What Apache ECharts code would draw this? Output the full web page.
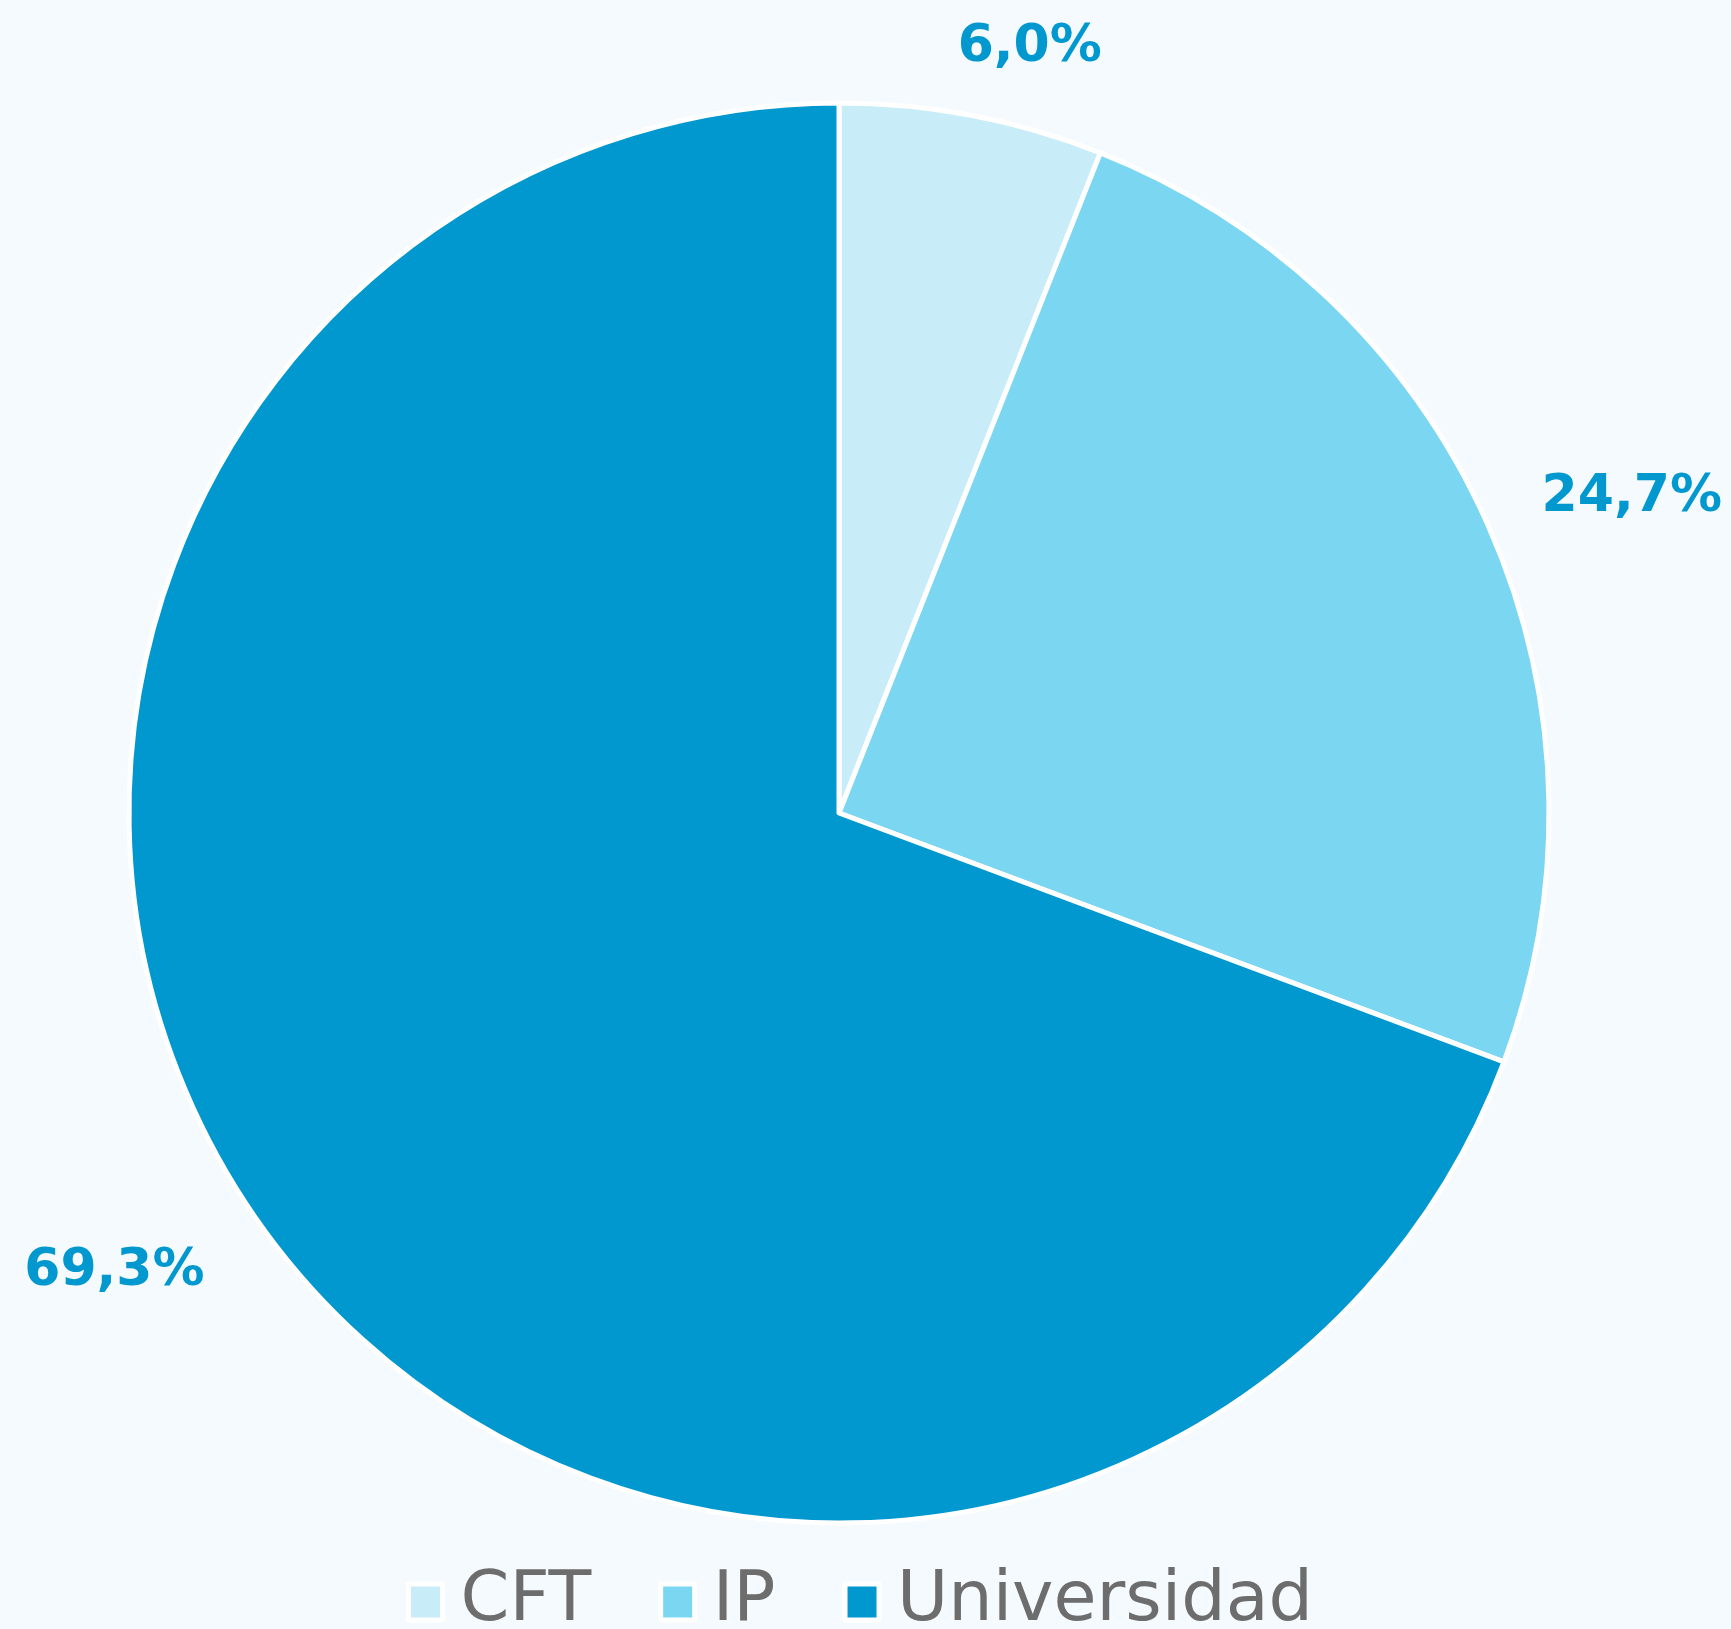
<!DOCTYPE html>
<html>
<head>
<meta charset="utf-8">
<script src="https://cdn.jsdelivr.net/npm/echarts@6/dist/echarts.min.js"></script>
<style>
  html, body { margin: 0; padding: 0; background: #f5fafe; }
  #chart { width: 1731px; height: 1629px; }
</style>
</head>
<body>
<div id="chart"></div>
<script>
var categories = ['CFT', 'IP', 'Universidad'];
var values = [6.0, 24.7, 69.3];
var colors = ['#c8edf8', '#7bd6f2', '#0098ce'];
// small nudges of the value labels from their default outside spot
var labelShift = [[-31, -7], [-8, -2], [5, 19]];

var chart = echarts.init(document.getElementById('chart'));

var data = categories.map(function (name, i) {
    return { name: name, value: values[i], itemStyle: { color: colors[i] } };
});

var option = {
    backgroundColor: '#f5fafe',
    animation: false,
    legend: {
        top: 1562,
        left: 401,
        icon: 'rect',
        itemWidth: 34,
        itemHeight: 36,
        itemGap: 67,
        itemStyle: { borderColor: '#ffffff', borderWidth: 5 },
        textStyle: {
            fontFamily: 'DejaVu Sans',
            fontSize: 70,
            lineHeight: 60,
            color: '#6d6d6d',
            padding: [10, 0, 0, 13]
        },
        data: categories
    },
    series: [{
        type: 'pie',
        center: [839, 813],
        radius: 710,
        startAngle: 90,
        clockwise: true,
        itemStyle: { borderColor: '#ffffff', borderWidth: 5 },
        label: {
            show: true,
            position: 'outside',
            overflow: 'none',
            fontFamily: 'DejaVu Sans',
            fontWeight: 'bold',
            fontSize: 52,
            color: '#0098ce',
            formatter: function (p) {
                return p.value.toFixed(1).replace('.', ',') + '%';
            }
        },
        labelLine: { show: false, length: 62, length2: 0 },
        labelLayout: function (p) {
            var s = labelShift[p.dataIndex];
            return { dx: s[0], dy: s[1], hideOverlap: false };
        },
        emphasis: { disabled: true },
        data: data
    }]
};

chart.setOption(option);
</script>
</body>
</html>
